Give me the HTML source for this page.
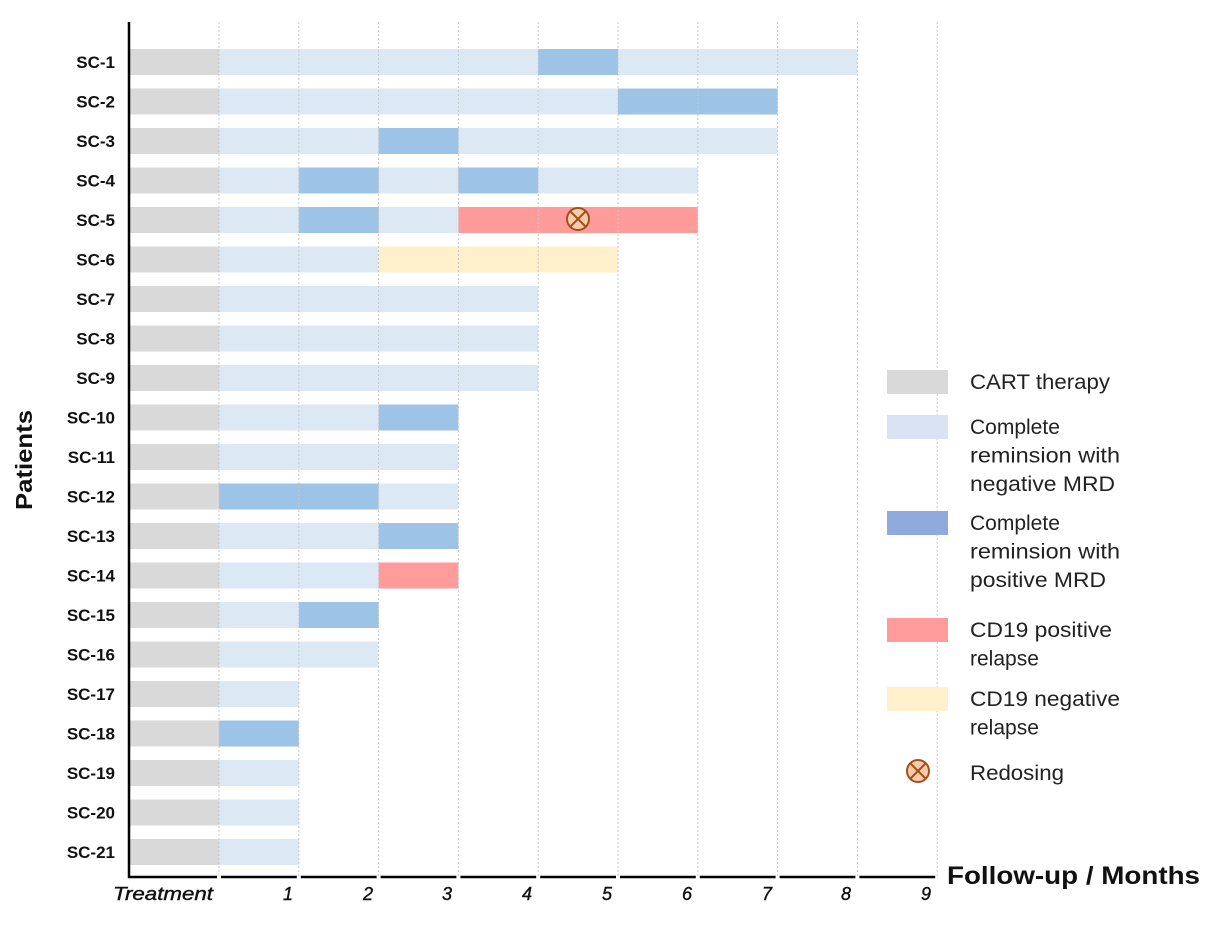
<!DOCTYPE html><html><head><meta charset="utf-8"><style>body{margin:0;background:#fff}svg{display:block;font-family:"Liberation Sans","DejaVu Sans",sans-serif}</style></head><body>
<svg width="1224" height="928" viewBox="0 0 1224 928" xmlns="http://www.w3.org/2000/svg">
<g fill="#d9d9d9">
<rect x="130" y="49" width="89" height="26"/><rect x="130" y="88.5" width="89" height="26"/><rect x="130" y="128" width="89" height="26"/><rect x="130" y="167.5" width="89" height="26"/><rect x="130" y="207" width="89" height="26"/><rect x="130" y="246.5" width="89" height="26"/><rect x="130" y="286" width="89" height="26"/><rect x="130" y="325.5" width="89" height="26"/><rect x="130" y="365" width="89" height="26"/><rect x="130" y="404.5" width="89" height="26"/><rect x="130" y="444" width="89" height="26"/><rect x="130" y="483.5" width="89" height="26"/><rect x="130" y="523" width="89" height="26"/><rect x="130" y="562.5" width="89" height="26"/><rect x="130" y="602" width="89" height="26"/><rect x="130" y="641.5" width="89" height="26"/><rect x="130" y="681" width="89" height="26"/><rect x="130" y="720.5" width="89" height="26"/><rect x="130" y="760" width="89" height="26"/><rect x="130" y="799.5" width="89" height="26"/><rect x="130" y="839" width="89" height="26"/>
</g>
<g fill="#dce9f5">
<rect x="219" y="49" width="638.4" height="26"/>
<rect x="219" y="88.5" width="399" height="26"/>
<rect x="219" y="128" width="558.6" height="26"/>
<rect x="219" y="167.5" width="478.8" height="26"/>
<rect x="219" y="207" width="239.4" height="26"/>
<rect x="219" y="246.5" width="159.6" height="26"/>
<rect x="219" y="286" width="319.2" height="26"/>
<rect x="219" y="325.5" width="319.2" height="26"/>
<rect x="219" y="365" width="319.2" height="26"/>
<rect x="219" y="404.5" width="159.6" height="26"/>
<rect x="219" y="444" width="239.4" height="26"/>
<rect x="378.6" y="483.5" width="79.8" height="26"/>
<rect x="219" y="523" width="159.6" height="26"/>
<rect x="219" y="562.5" width="159.6" height="26"/>
<rect x="219" y="602" width="79.8" height="26"/>
<rect x="219" y="641.5" width="159.6" height="26"/>
<rect x="219" y="681" width="79.8" height="26"/>
<rect x="219" y="760" width="79.8" height="26"/>
<rect x="219" y="799.5" width="79.8" height="26"/>
<rect x="219" y="839" width="79.8" height="26"/>
</g>
<g fill="#9dc3e6">
<rect x="538.2" y="49" width="79.8" height="26"/>
<rect x="618" y="88.5" width="159.6" height="26"/>
<rect x="378.6" y="128" width="79.8" height="26"/>
<rect x="298.8" y="167.5" width="79.8" height="26"/>
<rect x="458.4" y="167.5" width="79.8" height="26"/>
<rect x="298.8" y="207" width="79.8" height="26"/>
<rect x="378.6" y="404.5" width="79.8" height="26"/>
<rect x="219" y="483.5" width="159.6" height="26"/>
<rect x="378.6" y="523" width="79.8" height="26"/>
<rect x="298.8" y="602" width="79.8" height="26"/>
<rect x="219" y="720.5" width="79.8" height="26"/>
</g>
<g fill="#ff9b9b">
<rect x="458.4" y="207" width="239.4" height="26"/>
<rect x="378.6" y="562.5" width="79.8" height="26"/>
</g>
<rect x="378.6" y="246.5" width="239.4" height="26" fill="#fff0cc"/>
<g font-size="17" font-weight="bold" text-anchor="end" fill="#111">
<text x="115" y="68">SC-1</text><text x="115" y="107.5">SC-2</text><text x="115" y="147">SC-3</text><text x="115" y="186.5">SC-4</text><text x="115" y="226">SC-5</text><text x="115" y="265.5">SC-6</text><text x="115" y="305">SC-7</text><text x="115" y="344.5">SC-8</text><text x="115" y="384">SC-9</text><text x="115" y="423.5">SC-10</text><text x="115" y="463">SC-11</text><text x="115" y="502.5">SC-12</text><text x="115" y="542">SC-13</text><text x="115" y="581.5">SC-14</text><text x="115" y="621">SC-15</text><text x="115" y="660.5">SC-16</text><text x="115" y="700">SC-17</text><text x="115" y="739.5">SC-18</text><text x="115" y="779">SC-19</text><text x="115" y="818.5">SC-20</text><text x="115" y="858">SC-21</text>
</g>
<g stroke="#c8c8c8" stroke-dasharray="2,2">
<line x1="219" y1="22" x2="219" y2="876"/><line x1="298.8" y1="22" x2="298.8" y2="876"/><line x1="378.6" y1="22" x2="378.6" y2="876"/><line x1="458.4" y1="22" x2="458.4" y2="876"/><line x1="538.2" y1="22" x2="538.2" y2="876"/><line x1="618" y1="22" x2="618" y2="876"/><line x1="697.8" y1="22" x2="697.8" y2="876"/><line x1="777.6" y1="22" x2="777.6" y2="876"/><line x1="857.4" y1="22" x2="857.4" y2="876"/><line x1="937.2" y1="22" x2="937.2" y2="876"/>
</g>
<line x1="129" y1="22" x2="129" y2="878" stroke="#000" stroke-width="2.5"/>
<g stroke="#000" stroke-width="2.5">
<line x1="128" y1="877" x2="217" y2="877"/><line x1="221" y1="877" x2="296.8" y2="877"/><line x1="300.8" y1="877" x2="376.6" y2="877"/><line x1="380.6" y1="877" x2="456.4" y2="877"/><line x1="460.4" y1="877" x2="536.2" y2="877"/><line x1="540.2" y1="877" x2="616" y2="877"/><line x1="620" y1="877" x2="695.8" y2="877"/><line x1="699.8" y1="877" x2="775.6" y2="877"/><line x1="779.6" y1="877" x2="855.4" y2="877"/><line x1="859.4" y1="877" x2="935.2" y2="877"/>
</g>
<g font-size="18" font-style="italic" text-anchor="end" fill="#111" stroke="#111" stroke-width="0.4">
<text x="213" y="900" textLength="100" lengthAdjust="spacingAndGlyphs">Treatment</text><text x="293" y="900">1</text><text x="373" y="900">2</text><text x="452" y="900">3</text><text x="532" y="900">4</text><text x="612" y="900">5</text><text x="692" y="900">6</text><text x="772" y="900">7</text><text x="851" y="900">8</text><text x="931" y="900">9</text>
</g>
<circle cx="578" cy="219" r="11" fill="#f8cba8" stroke="#a0501c" stroke-width="2"/><path d="M570,211L586,227M586,211L570,227" stroke="#a0501c" stroke-width="2"/>
<text x="947" y="884" font-size="25" font-weight="bold" fill="#111" textLength="253" lengthAdjust="spacingAndGlyphs">Follow-up / Months</text>
<text transform="translate(32,460) rotate(-90)" font-size="23" font-weight="bold" text-anchor="middle" fill="#111" textLength="100" lengthAdjust="spacingAndGlyphs">Patients</text>
<rect x="887" y="370" width="61" height="24" fill="#d9d9d9"/>
<rect x="887" y="415" width="61" height="24" fill="#dae3f3"/>
<rect x="887" y="511" width="61" height="24" fill="#8faadc"/>
<rect x="887" y="618" width="61" height="24" fill="#ff9b9b"/>
<rect x="887" y="687" width="61" height="24" fill="#fff0cc"/>
<g font-size="21" fill="#222">
<text x="970" y="389" textLength="140" lengthAdjust="spacingAndGlyphs">CART therapy</text>
<text x="970" y="434">Complete</text><text x="970" y="462.5" textLength="150" lengthAdjust="spacingAndGlyphs">reminsion with</text><text x="970" y="491" textLength="145" lengthAdjust="spacingAndGlyphs">negative MRD</text>
<text x="970" y="530">Complete</text><text x="970" y="558.5" textLength="150" lengthAdjust="spacingAndGlyphs">reminsion with</text><text x="970" y="587" textLength="136" lengthAdjust="spacingAndGlyphs">positive MRD</text>
<text x="970" y="637" textLength="142" lengthAdjust="spacingAndGlyphs">CD19 positive</text><text x="970" y="665.5">relapse</text>
<text x="970" y="706" textLength="150" lengthAdjust="spacingAndGlyphs">CD19 negative</text><text x="970" y="734.5">relapse</text>
<text x="970" y="780" textLength="94" lengthAdjust="spacingAndGlyphs">Redosing</text>
</g>
<circle cx="918" cy="771" r="11" fill="#f8cba8" stroke="#a0501c" stroke-width="2"/><path d="M910,763L926,779M926,763L910,779" stroke="#a0501c" stroke-width="2"/>
</svg></body></html>
